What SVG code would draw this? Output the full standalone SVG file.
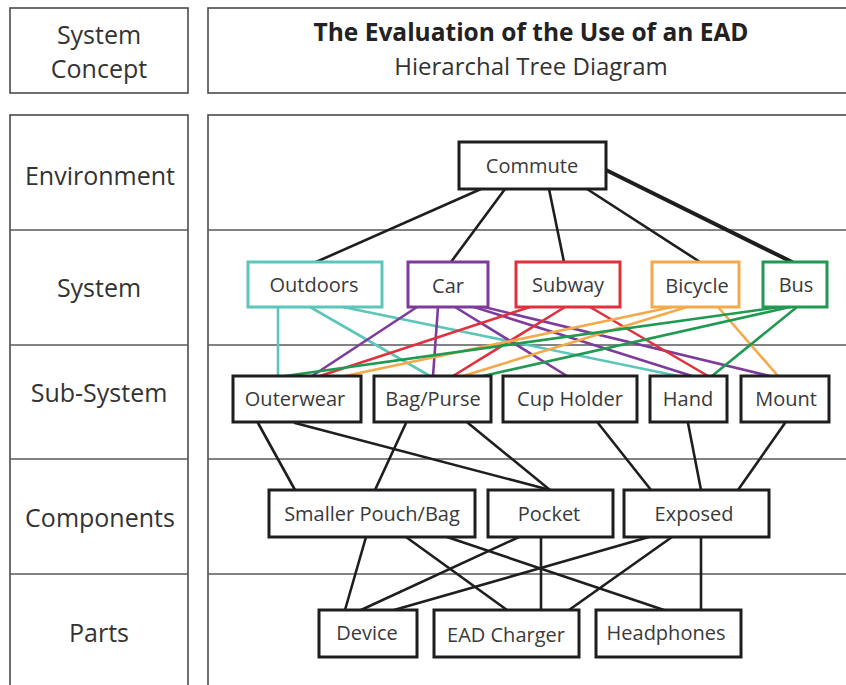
<svg xmlns="http://www.w3.org/2000/svg" width="846" height="685" viewBox="0 0 846 685">
  <style>
    .frame { fill: #fff; stroke: #4a4a4a; stroke-width: 1.6; }
    .grid { stroke: #5a5a5a; stroke-width: 1.4; }
    .label { font-family: "Open Sans", "Noto Sans", sans-serif; font-size: 25px; fill: #333; text-anchor: middle; dominant-baseline: central; }
    .title { font-family: "Open Sans", "Noto Sans", sans-serif; font-size: 24.5px; font-weight: bold; fill: #222; text-anchor: middle; }
    .subtitle { font-family: "Open Sans", "Noto Sans", sans-serif; font-size: 24px; fill: #333; text-anchor: middle; }
    .node rect { fill: #fff; stroke-width: 3; }
    .node text { font-family: "Open Sans", "Noto Sans", sans-serif; font-size: 20px; fill: #3a3a3a; text-anchor: middle; dominant-baseline: central; }
    .black rect { stroke: #1e1e1e; }
    .teal rect { stroke: #5cc6ba; }
    .purple rect { stroke: #7e3b9c; }
    .red rect { stroke: #e0313d; }
    .orange rect { stroke: #f4aa4b; }
    .green rect { stroke: #1f9a50; }
    #connectors line { stroke-width: 2.6; stroke-linecap: round; fill: none; }
    .k { stroke: #1e1e1e; }
    .t { stroke: #5cc6ba; }
    .p { stroke: #7e3b9c; }
    .r { stroke: #e0313d; }
    .o { stroke: #f4aa4b; }
    .g { stroke: #1f9a50; }
  </style>

  <rect width="846" height="685" fill="#fff"/>

  <!-- header -->
  <rect class="frame" x="10" y="8" width="178" height="85"/>
  <rect class="frame" x="208" y="8" width="645" height="85"/>
  <text class="label" x="99" y="34">System</text>
  <text class="label" x="99" y="68">Concept</text>
  <text class="title" x="531" y="41">The Evaluation of the Use of an EAD</text>
  <text class="subtitle" x="531" y="75">Hierarchal Tree Diagram</text>

  <!-- level column -->
  <rect class="frame" x="10" y="115" width="178" height="580"/>
  <rect class="frame" x="208" y="115" width="645" height="580"/>
  <g class="grid">
    <line x1="10" y1="230" x2="188" y2="230"/>
    <line x1="10" y1="345" x2="188" y2="345"/>
    <line x1="10" y1="459" x2="188" y2="459"/>
    <line x1="10" y1="574" x2="188" y2="574"/>
    <line x1="208" y1="230" x2="846" y2="230"/>
    <line x1="208" y1="345" x2="846" y2="345"/>
    <line x1="208" y1="459" x2="846" y2="459"/>
    <line x1="208" y1="574" x2="846" y2="574"/>
  </g>
  <text class="label" x="100" y="175">Environment</text>
  <text class="label" x="99" y="287">System</text>
  <text class="label" x="99" y="392">Sub-System</text>
  <text class="label" x="100" y="517">Components</text>
  <text class="label" x="99" y="632">Parts</text>

  <g id="connectors">
    <!-- environment to system -->
    <line class="k" x1="481" y1="189" x2="316" y2="262"/>
    <line class="k" x1="505" y1="189" x2="451" y2="262"/>
    <line class="k" x1="549" y1="189" x2="564" y2="262"/>
    <line class="k" x1="587" y1="189" x2="700" y2="262"/>
    <line class="k" x1="606" y1="170" x2="792" y2="262" style="stroke-width:4"/>
    <!-- Outdoors -->
    <line class="t" x1="278" y1="307" x2="278" y2="376"/>
    <line class="t" x1="310" y1="307" x2="430" y2="376"/>
    <line class="t" x1="343" y1="307" x2="678" y2="376"/>
    <!-- Car -->
    <line class="p" x1="417" y1="307" x2="312" y2="376"/>
    <line class="p" x1="438" y1="307" x2="433" y2="376"/>
    <line class="p" x1="455" y1="307" x2="567" y2="376"/>
    <line class="p" x1="474" y1="307" x2="692" y2="376"/>
    <line class="p" x1="484" y1="307" x2="770" y2="376"/>
    <!-- Subway -->
    <line class="r" x1="530" y1="307" x2="320" y2="376"/>
    <line class="r" x1="565" y1="307" x2="453" y2="376"/>
    <line class="r" x1="590" y1="307" x2="708" y2="376"/>
    <!-- Bicycle -->
    <line class="o" x1="672" y1="307" x2="345" y2="376"/>
    <line class="o" x1="687" y1="307" x2="463" y2="376"/>
    <line class="o" x1="718" y1="307" x2="778" y2="376"/>
    <!-- Bus -->
    <line class="g" x1="780" y1="307" x2="285" y2="376"/>
    <line class="g" x1="790" y1="307" x2="483" y2="376"/>
    <line class="g" x1="797" y1="307" x2="712" y2="376"/>
    <!-- sub-system to components -->
    <line class="k" x1="258" y1="423" x2="295" y2="490"/>
    <line class="k" x1="295" y1="423" x2="550" y2="490"/>
    <line class="k" x1="406" y1="423" x2="375" y2="490"/>
    <line class="k" x1="468" y1="423" x2="550" y2="490"/>
    <line class="k" x1="598" y1="423" x2="651" y2="490"/>
    <line class="k" x1="688" y1="423" x2="701" y2="490"/>
    <line class="k" x1="785" y1="423" x2="738" y2="490"/>
    <!-- components to parts -->
    <line class="k" x1="366" y1="537" x2="345" y2="610"/>
    <line class="k" x1="406" y1="537" x2="507" y2="610"/>
    <line class="k" x1="447" y1="537" x2="664" y2="610"/>
    <line class="k" x1="519" y1="537" x2="361" y2="610"/>
    <line class="k" x1="541" y1="537" x2="541" y2="610"/>
    <line class="k" x1="649" y1="537" x2="394" y2="610"/>
    <line class="k" x1="672" y1="537" x2="569" y2="610"/>
    <line class="k" x1="701" y1="537" x2="701" y2="610"/>
  </g>

  <!-- environment -->
  <g id="commute" class="node black"><rect x="459" y="142" width="147" height="47"/><text x="532" y="165">Commute</text></g>
  <!-- system -->
  <g id="outdoors" class="node teal"><rect x="248" y="262" width="134" height="45"/><text x="314" y="284">Outdoors</text></g>
  <g id="car" class="node purple"><rect x="408" y="262" width="80" height="45"/><text x="448" y="285">Car</text></g>
  <g id="subway" class="node red"><rect x="516" y="262" width="104" height="45"/><text x="568" y="284">Subway</text></g>
  <g id="bicycle" class="node orange"><rect x="652" y="262" width="87" height="45"/><text x="697" y="285">Bicycle</text></g>
  <g id="bus" class="node green"><rect x="763" y="262" width="64" height="45"/><text x="796" y="284">Bus</text></g>
  <!-- sub-system -->
  <g id="outerwear" class="node black"><rect x="233" y="376" width="128" height="46"/><text x="295" y="398">Outerwear</text></g>
  <g id="bag-purse" class="node black"><rect x="374" y="376" width="117" height="46"/><text x="433" y="398">Bag/Purse</text></g>
  <g id="cup-holder" class="node black"><rect x="503" y="376" width="134" height="46"/><text x="570" y="398">Cup Holder</text></g>
  <g id="hand" class="node black"><rect x="650" y="376" width="77" height="46"/><text x="688" y="398">Hand</text></g>
  <g id="mount" class="node black"><rect x="741" y="376" width="88" height="46"/><text x="786" y="398">Mount</text></g>
  <!-- components -->
  <g id="smaller-pouch" class="node black"><rect x="269" y="490" width="206" height="47"/><text x="372" y="513">Smaller Pouch/Bag</text></g>
  <g id="pocket" class="node black"><rect x="488" y="490" width="125" height="47"/><text x="549" y="513">Pocket</text></g>
  <g id="exposed" class="node black"><rect x="624" y="490" width="145" height="47"/><text x="694" y="513">Exposed</text></g>
  <!-- parts -->
  <g id="device" class="node black"><rect x="319" y="610" width="98" height="47"/><text x="367" y="632">Device</text></g>
  <g id="ead-charger" class="node black"><rect x="434" y="610" width="145" height="47"/><text x="506" y="634">EAD Charger</text></g>
  <g id="headphones" class="node black"><rect x="596" y="610" width="145" height="47"/><text x="666" y="632">Headphones</text></g>
</svg>
